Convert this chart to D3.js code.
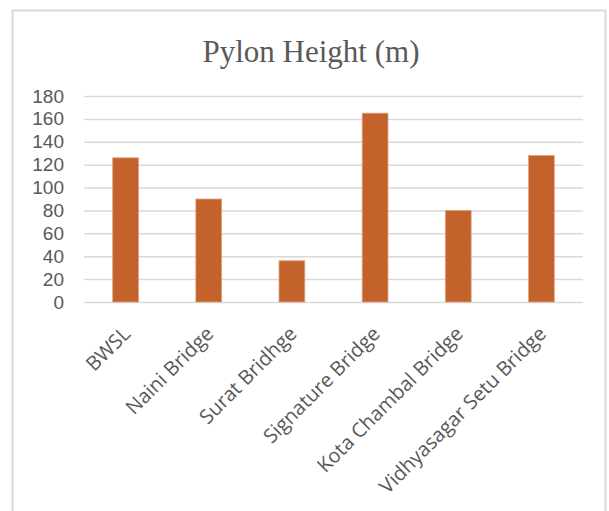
<!DOCTYPE html>
<html>
<head>
<meta charset="utf-8">
<script src="https://cdn.jsdelivr.net/npm/d3@7/dist/d3.min.js"></script>
<style>
  html, body { margin: 0; padding: 0; background: #fff; }
  svg { display: block; }
</style>
</head>
<body>
<svg id="chart" width="609" height="511"></svg>
<script>
// Pylon heights of major Indian cable-stayed bridges (metres)
const bridges = ["BWSL", "Naini Bridge", "Surat Bridhge", "Signature Bridge", "Kota Chambal Bridge", "Vidhyasagar Setu Bridge"];
const heights = [126, 90, 36, 165, 80, 128];
const yTicks = [0, 20, 40, 60, 80, 100, 120, 140, 160, 180];
const chartTitle = "Pylon Height (m)";

const svg = d3.select("#chart");
const plot = { left: 84, right: 583, top: 96, bottom: 302 };

// outer chart frame
svg.append("rect")
  .attr("x", 12.5).attr("y", 10.5)
  .attr("width", 593).attr("height", 520)
  .attr("fill", "#fff")
  .attr("stroke", "#d9d9d9")
  .attr("stroke-width", 2);

const x = d3.scaleBand()
  .domain(bridges)
  .range([plot.left, plot.right])
  .paddingInner(0.69)
  .paddingOuter(0.345);

const y = d3.scaleLinear()
  .domain([0, 180])
  .range([plot.bottom, plot.top]);

// horizontal gridlines and value labels
const yAxis = d3.axisLeft(y)
  .tickValues(yTicks)
  .tickSize(-(plot.right - plot.left))
  .tickPadding(20)
  .tickFormat(d3.format("d"));

const gy = svg.append("g")
  .attr("transform", `translate(${plot.left},0)`)
  .call(yAxis);
gy.select(".domain").remove();
gy.selectAll(".tick line")
  .attr("stroke", "#d9d9d9")
  .attr("stroke-width", 1.5);
gy.selectAll(".tick text")
  .attr("fill", "#595959")
  .style("font-family", "'Liberation Sans', Arial, sans-serif")
  .style("font-size", "19px");

// bars
svg.append("g")
  .selectAll("rect")
  .data(bridges)
  .join("rect")
  .attr("x", d => x(d))
  .attr("y", (d, i) => y(heights[i]))
  .attr("width", x.bandwidth())
  .attr("height", (d, i) => y(0) - y(heights[i]))
  .attr("fill", "#c3622a")
  .attr("stroke", "#e0a27c")
  .attr("stroke-width", 0.8);

// category axis with rotated labels
const xAxis = d3.axisBottom(x).tickSize(0).tickPadding(0);
const gx = svg.append("g")
  .attr("transform", `translate(0,${plot.bottom})`)
  .call(xAxis);
gx.select(".domain").remove();
gx.selectAll(".tick text")
  .attr("fill", "#595959")
  .style("font-family", "'Open Sans', 'Liberation Sans', sans-serif")
  .style("font-size", "20px")
  .attr("text-anchor", "end")
  .attr("dy", null)
  .attr("y", 0)
  .attr("transform", "translate(6,33) rotate(-45)");

// title
svg.append("text")
  .attr("x", 311)
  .attr("y", 62)
  .attr("text-anchor", "middle")
  .attr("fill", "#595959")
  .style("font-family", "'Liberation Serif', 'DejaVu Serif', serif")
  .style("font-size", "31px")
  .text(chartTitle);
</script>
</body>
</html>
